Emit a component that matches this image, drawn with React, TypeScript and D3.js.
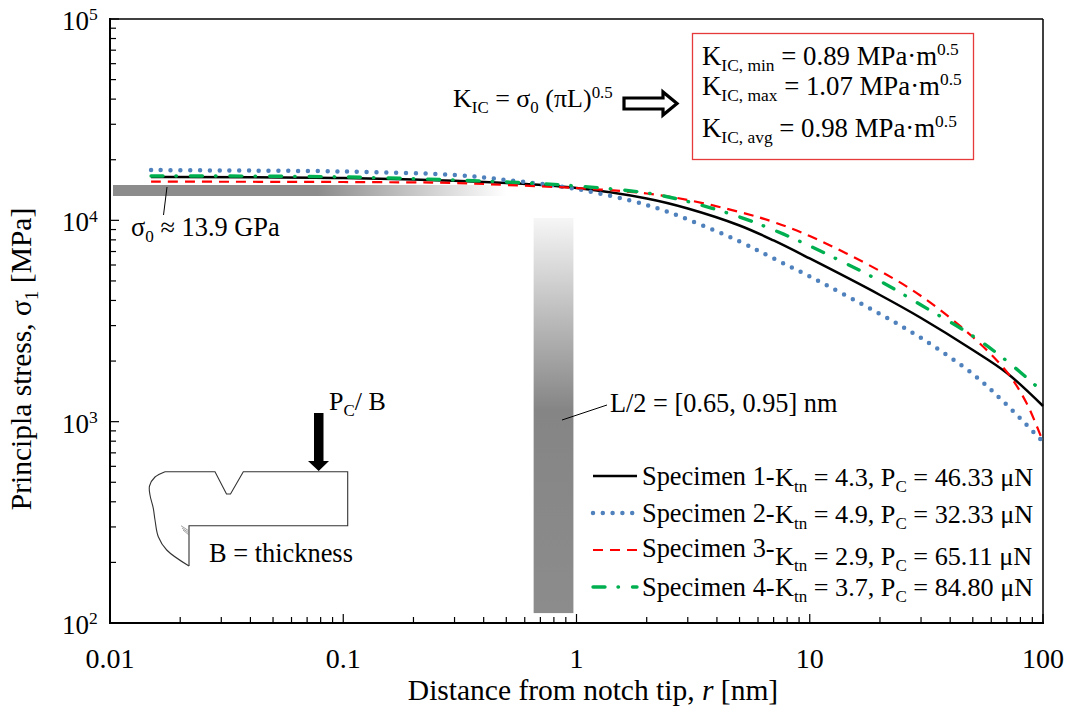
import React from "react";
import * as d3 from "d3";

const W = 1067;
const H = 711;
const FONT = "'Liberation Serif', 'Times New Roman', serif";

const xTickLabels = [0.01, 0.1, 1, 10, 100];
const yTickExps = [2, 3, 4, 5];

const r1 = [0.015, 0.1, 0.5, 1, 2, 3, 5, 7, 10, 20, 30, 50, 70, 100];
const s1 = [16420, 16230, 15330, 14470, 12840, 11450, 9427, 7943, 6465, 4258, 3273, 2270, 1745, 1196];

const r2 = [0.015, 0.03, 0.1, 0.3, 0.5, 1, 2, 3, 5, 7, 10, 20, 30, 50, 70, 100];
const s2 = [17780, 17690, 17480, 16800, 15860, 14310, 11920, 10100, 7850, 6465, 5260, 3426, 2604, 1725, 1210, 793];

const r3 = [0.015, 0.1, 0.3, 0.5, 1, 2, 3, 5, 7, 10, 20, 30, 50, 70, 85, 100];
const s3 = [15560, 15500, 15330, 14980, 14470, 13590, 12620, 11000, 9810, 8360, 5602, 4209, 2634, 1764, 1238, 793];

const r4 = [0.015, 0.1, 0.5, 1, 2, 3, 5, 7, 10, 20, 30, 50, 70, 100];
const s4 = [16610, 16420, 15500, 14810, 13670, 12400, 10390, 8955, 7460, 4996, 3798, 2664, 2001, 1404];

const seriesStyles = [
  { r: r1, s: s1, color: "#000000", width: 2.5, dash: undefined, cap: "butt" },
  { r: r2, s: s2, color: "#4f81bd", width: 4.5, dash: "0 9.8", cap: "round" },
  { r: r3, s: s3, color: "#ff0000", width: 2.2, dash: "10 7", cap: "butt" },
  { r: r4, s: s4, color: "#00b050", width: 3.4, dash: "12 13 0.5 14", cap: "round" },
];

const legendNames = ["Specimen 1-", "Specimen 2-", "Specimen 3-", "Specimen 4-"];
const legendK = ["4.3", "4.9", "2.9", "3.7"];
const legendP = ["46.33", "32.33", "65.11", "84.80"];

const x = d3.scaleLog().domain([0.01, 100]).range([110, 1043]);
const y = d3.scaleLog().domain([100, 100000]).range([623, 19]);

const isMajor = (v: number) => Math.abs(Math.log10(v) - Math.round(Math.log10(v))) < 1e-6;

type Part = [string, ("sub" | "sup" | "i")?];

// text with sub and superscripts, the dy is undone on the next piece
function Rich({ px, py, size, parts, anchor }: { px: number; py: number; size: number; parts: Part[]; anchor?: string }) {
  let shift = 0;
  return (
    <text x={px} y={py} fontSize={size} fontFamily={FONT} fill="#000" textAnchor={anchor} xmlSpace="preserve">
      {parts.map(([t, kind], i) => {
        const target = kind === "sub" ? size * 0.22 : kind === "sup" ? -size * 0.36 : 0;
        const dy = target - shift;
        shift = target;
        return (
          <tspan
            key={i}
            dy={dy}
            fontSize={kind === "sub" || kind === "sup" ? size * 0.65 : size}
            fontStyle={kind === "i" ? "italic" : undefined}
          >
            {t}
          </tspan>
        );
      })}
    </text>
  );
}

export default function App() {
  const line = d3
    .line<number>()
    .x((d) => x(d))
    .curve(d3.curveCatmullRom.alpha(0.5));

  const straight = d3.line<[number, number]>().curve(d3.curveLinear);
  const rounded = d3.line<[number, number]>().curve(d3.curveCatmullRom.alpha(0.5));

  // sketch of the specimen, not data
  const outline: [number, number][] = [
    [165, 471.7], [215, 471.7], [226.5, 494], [230.5, 494], [243.3, 471.7], [347.7, 471.7],
    [347.7, 525.7], [189, 525.7], [189, 566],
  ];
  const backEdge: [number, number][] = [
    [165, 471.7], [155, 477], [149.5, 486], [150, 495], [153.3, 508.3], [155, 520], [158.3, 536.7],
    [166.7, 550], [189, 566],
  ];

  return (
    <svg width={W} height={H} style={{ position: "absolute", left: 0, top: 0, background: "#fff" }}>
      <defs>
        <linearGradient id="hFade" x1="0" x2="1" y1="0" y2="0">
          <stop offset="0" stopColor="#8c8c8c" />
          <stop offset="0.52" stopColor="#8c8c8c" />
          <stop offset="1" stopColor="#ffffff" />
        </linearGradient>
        <linearGradient id="vFade" x1="0" x2="0" y1="0" y2="1">
          <stop offset="0" stopColor="#f6f6f6" />
          <stop offset="0.486" stopColor="#858585" />
          <stop offset="1" stopColor="#8c8c8c" />
        </linearGradient>
      </defs>

      {/* sigma_0 band and L/2 band */}
      <rect x={x(0.0103)} y={185} width={x(0.5) - x(0.0103)} height={11} fill="url(#hFade)" />
      <rect x={x(0.655)} y={y(10270)} width={x(0.97) - x(0.655)} height={y(112) - y(10270)} fill="url(#vFade)" />

      {/* frame */}
      <line x1={110} x2={110} y1={18} y2={624} stroke="#000" strokeWidth={2} />
      <line x1={109} x2={1044} y1={623} y2={623} stroke="#000" strokeWidth={2} />
      <line x1={110} x2={1043} y1={19} y2={19} stroke="#000" strokeWidth={1.5} />
      <line x1={1043} x2={1043} y1={19} y2={623} stroke="#000" strokeWidth={1.5} />

      {x.ticks().map((v) => (
        <line key={v} x1={x(v)} x2={x(v)} y1={623} y2={isMajor(v) ? 614 : 617} stroke="#000" strokeWidth={1.2} />
      ))}
      {y.ticks().map((v) => (
        <line key={v} x1={110} x2={isMajor(v) ? 119 : 116} y1={y(v)} y2={y(v)} stroke="#000" strokeWidth={1.2} />
      ))}

      {xTickLabels.map((v) => (
        <text key={v} x={x(v)} y={668} fontSize={28} fontFamily={FONT} textAnchor="middle">
          {v}
        </text>
      ))}
      {yTickExps.map((e) => (
        <Rich key={e} px={62} py={y(Math.pow(10, e)) + 11} size={27} parts={[["10"], [String(e), "sup"]]} />
      ))}

      <Rich px={593} py={700} size={29.5} anchor="middle" parts={[["Distance from notch tip, "], ["r", "i"], [" [nm]"]]} />
      <g transform="translate(31,359) rotate(-90)">
        <Rich px={0} py={0} size={29.5} anchor="middle" parts={[["Principla stress, σ"], ["1", "sub"], [" [MPa]"]]} />
      </g>

      {/* curves */}
      {seriesStyles.map((d, i) => (
        <path
          key={i}
          d={line.y((_, j) => y(d.s[j]))(d.r) || ""}
          fill="none"
          stroke={d.color}
          strokeWidth={d.width}
          strokeDasharray={d.dash}
          strokeLinecap={d.cap as any}
        />
      ))}

      {/* legend */}
      {seriesStyles.map((d, i) => {
        const ly = [476, 513, 550, 587][i];
        const tb = [485, 522, 557, 596][i];
        const kb = [486, 523, 565, 596][i];
        return (
          <g key={i}>
            <line x1={593} x2={637} y1={ly} y2={ly} stroke={d.color} strokeWidth={d.width} strokeDasharray={d.dash} strokeLinecap={d.cap as any} />
            <text x={642} y={tb} fontSize={26.4} fontFamily={FONT}>{legendNames[i]}</text>
            <Rich
              px={775}
              py={kb}
              size={26.2}
              parts={[["K"], ["tn", "sub"], [` = ${legendK[i]}, P`], ["C", "sub"], [` = ${legendP[i]} μN`]]}
            />
          </g>
        );
      })}

      {/* KIC box */}
      <rect x={692.5} y={33.5} width={281} height={126} fill="#fff" stroke="#e6393b" strokeWidth={1.3} />
      <Rich px={702} py={65} size={26.8} parts={[["K"], ["IC, min", "sub"], [" = 0.89 MPa·m"], ["0.5", "sup"]]} />
      <Rich px={702} py={95} size={26.8} parts={[["K"], ["IC, max", "sub"], [" = 1.07 MPa·m"], ["0.5", "sup"]]} />
      <Rich px={702} py={137} size={26.8} parts={[["K"], ["IC, avg", "sub"], [" = 0.98 MPa·m"], ["0.5", "sup"]]} />

      <Rich px={453} py={107} size={26} parts={[["K"], ["IC", "sub"], [" = σ"], ["0", "sub"], [" (πL)"], ["0.5", "sup"]]} />
      <path d="M624,98 H663 V92 L677,103.5 L663,115 V109 H624 Z" fill="#fff" stroke="#000" strokeWidth={3.2} />

      {/* annotations */}
      <line x1={167} y1={187} x2={163.5} y2={215} stroke="#000" strokeWidth={1} />
      <Rich px={131} py={236} size={26.4} parts={[["σ"], ["0", "sub"], [" ≈ 13.9 GPa"]]} />
      <line x1={562} y1={420} x2={607} y2={405} stroke="#000" strokeWidth={1} />
      <text x={610} y={412} fontSize={26.3} fontFamily={FONT}>L/2 = [0.65, 0.95] nm</text>

      {/* specimen sketch */}
      <path d={straight(outline) || ""} fill="none" stroke="#333" strokeWidth={1.1} />
      <path d={rounded(backEdge) || ""} fill="none" stroke="#333" strokeWidth={1.1} />
      <path d="M181,525.7 L189,531 M182,528 L189,533 M183,530 L189,535" fill="none" stroke="#777" strokeWidth={0.7} />
      <path d="M314,413 H323.5 V461 H329 L318.7,471 L308,461 H314 Z" fill="#000" />
      <Rich px={329} py={410} size={26} parts={[["P"], ["C", "sub"], ["/ B"]]} />
      <text x={209} y={562} fontSize={26.4} fontFamily={FONT}>B = thickness</text>
    </svg>
  );
}
